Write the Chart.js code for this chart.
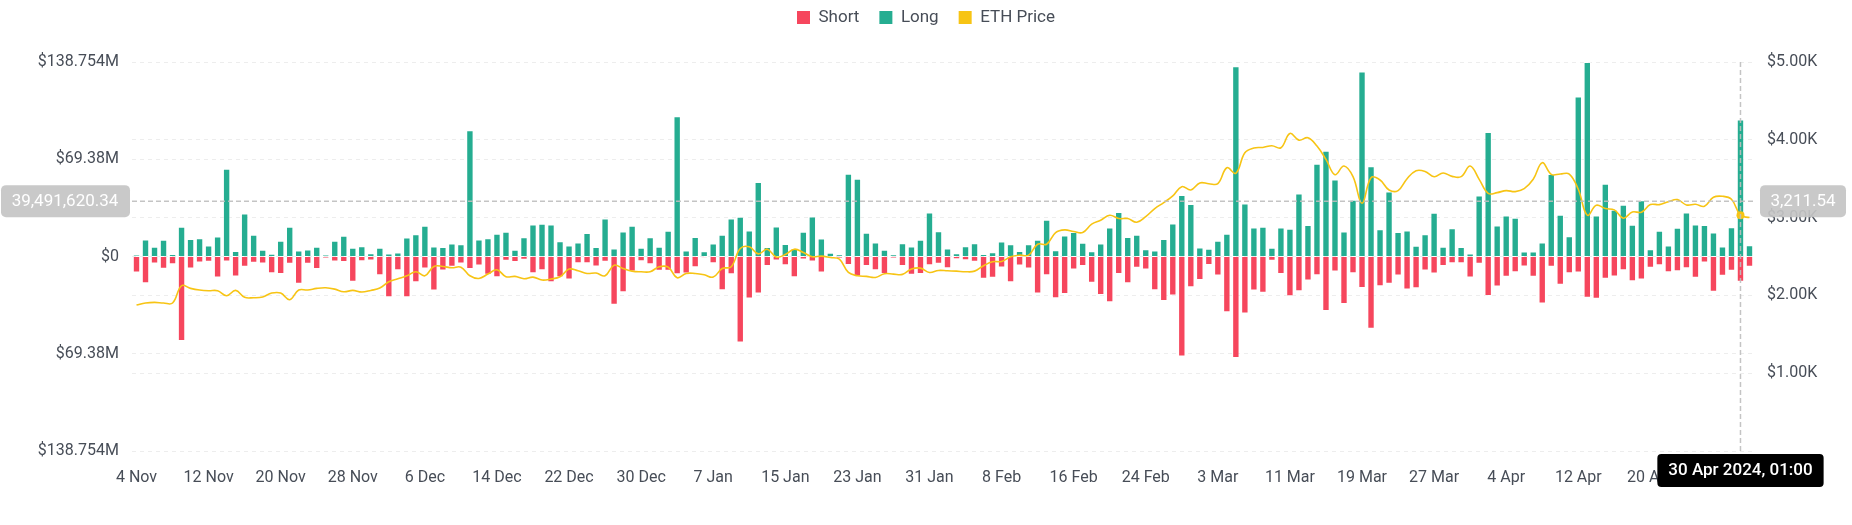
<!DOCTYPE html>
<html>
<head>
<meta charset="utf-8">
<title>ETH Liquidations</title>
<script src="https://cdn.jsdelivr.net/npm/chart.js@4.4.1/dist/chart.umd.min.js"></script>
<style>
  html, body { margin: 0; padding: 0; background: #fff; }
  #wrap { width: 1852px; height: 525px; position: relative; }
</style>
</head>
<body>
<div id="wrap"><canvas id="liqChart"></canvas></div>
<script>
// daily liquidations in $M, 4 Nov 2023 -> 1 May 2024
const longLiq = [
  1.2, 12.1, 6.9, 11.9, 1.7, 21.2, 12.4, 13.1, 7.9, 14.3,
  62.6, 4.0, 30.7, 15.5, 4.8, 1.9, 11.2, 21.2, 4.3, 5.0,
  6.9, 1.0, 11.2, 14.8, 6.2, 7.4, 2.4, 6.2, 2.1, 2.9,
  13.6, 15.9, 21.9, 7.1, 6.7, 9.3, 8.8, 90.0, 12.1, 13.1,
  16.2, 17.6, 4.8, 13.8, 22.8, 23.3, 22.8, 10.9, 7.9, 10.0,
  16.7, 6.7, 27.1, 5.7, 17.9, 21.9, 6.2, 13.8, 6.9, 18.3,
  100.0, 4.3, 14.0, 3.8, 9.3, 15.5, 27.1, 28.3, 18.6, 53.1,
  6.7, 21.4, 9.0, 5.5, 17.6, 28.6, 12.9, 2.6, 1.4, 59.0,
  55.5, 16.9, 10.0, 4.8, 1.4, 9.5, 7.1, 11.9, 31.4, 18.1,
  5.7, 2.4, 7.4, 9.5, 1.7, 3.1, 10.7, 8.8, 4.0, 8.8,
  11.9, 26.2, 4.5, 15.0, 17.4, 9.8, 3.8, 9.3, 20.7, 31.7,
  14.0, 15.5, 5.2, 4.3, 12.4, 23.6, 43.8, 37.4, 6.4, 5.5,
  11.2, 16.2, 135.7, 37.8, 20.7, 21.2, 6.2, 20.7, 19.8, 45.0,
  22.4, 66.2, 75.4, 55.0, 17.9, 40.5, 131.9, 64.3, 19.5, 46.4,
  17.4, 18.6, 7.6, 15.9, 31.2, 6.9, 20.2, 6.7, 2.1, 43.6,
  88.8, 22.1, 29.3, 27.6, 3.6, 3.6, 10.0, 58.8, 29.8, 14.5,
  114.2, 138.754, 29.3, 51.9, 33.3, 36.9, 22.6, 40.2, 5.2, 18.3,
  7.9, 20.5, 31.4, 22.8, 22.4, 17.1, 7.1, 20.9, 97.8, 8.1
];

const shortLiq = [
  11.4, 19.0, 5.0, 8.8, 5.5, 60.2, 8.6, 4.3, 3.8, 15.0,
  3.6, 14.3, 7.4, 4.5, 5.0, 11.9, 12.4, 5.2, 19.5, 5.2,
  9.0, 1.2, 3.6, 4.0, 18.1, 3.3, 2.9, 13.3, 29.0, 9.8,
  29.0, 18.3, 8.6, 24.3, 10.0, 7.4, 5.0, 9.0, 6.4, 13.1,
  14.8, 3.1, 4.0, 2.4, 11.9, 9.8, 18.3, 14.8, 16.4, 4.8,
  4.8, 7.1, 3.8, 34.5, 25.5, 10.7, 3.3, 5.5, 10.2, 10.2,
  12.6, 12.1, 7.6, 0.7, 4.8, 24.0, 12.6, 61.4, 30.0, 26.4,
  6.7, 2.9, 6.2, 14.8, 2.1, 3.6, 11.4, 0.5, 1.0, 6.0,
  14.3, 6.7, 9.8, 12.4, 1.0, 6.7, 13.1, 12.4, 6.2, 5.2,
  8.3, 1.9, 2.6, 3.8, 15.9, 15.2, 7.9, 18.3, 6.4, 8.6,
  26.4, 13.3, 29.8, 26.7, 9.3, 6.7, 18.8, 27.4, 32.6, 12.4,
  19.0, 8.1, 9.3, 24.0, 31.7, 27.8, 71.4, 21.9, 16.7, 6.0,
  13.6, 39.7, 72.4, 40.7, 24.3, 25.9, 3.1, 12.4, 28.3, 24.8,
  17.1, 13.3, 38.8, 10.7, 33.8, 11.9, 22.4, 51.6, 21.2, 19.5,
  13.6, 23.6, 22.6, 10.0, 12.1, 6.7, 4.8, 4.8, 15.0, 5.2,
  28.1, 21.4, 14.5, 11.2, 7.1, 14.5, 33.6, 7.4, 20.2, 11.9,
  11.4, 29.5, 30.2, 15.9, 14.3, 9.8, 17.6, 16.4, 8.1, 6.2,
  11.2, 10.5, 8.3, 15.2, 4.3, 25.2, 13.8, 10.2, 18.1, 7.4
];

const ethPrice = [
  1876, 1902, 1910, 1902, 1902, 2124, 2090, 2069, 2060, 2060,
  1996, 2064, 1975, 1970, 1979, 2030, 2030, 1945, 2069, 2069,
  2090, 2098, 2081, 2047, 2064, 2043, 2064, 2094, 2175, 2214,
  2252, 2304, 2252, 2372, 2372, 2355, 2363, 2252, 2218, 2274,
  2329, 2240, 2244, 2214, 2235, 2197, 2210, 2240, 2338, 2316,
  2282, 2287, 2252, 2389, 2346, 2312, 2304, 2304, 2368, 2363,
  2227, 2282, 2282, 2265, 2235, 2346, 2368, 2603, 2624, 2534,
  2594, 2492, 2526, 2594, 2552, 2496, 2505, 2487, 2466, 2295,
  2252, 2244, 2231, 2278, 2274, 2270, 2338, 2351, 2295, 2321,
  2316, 2312, 2304, 2312, 2381, 2432, 2436, 2496, 2517, 2517,
  2658, 2658, 2808, 2842, 2821, 2808, 2915, 2966, 3030, 2988,
  2988, 2941, 3013, 3116, 3193, 3278, 3398, 3355, 3445, 3436,
  3436, 3641, 3569, 3834, 3894, 3902, 3924, 3898, 4082, 3996,
  4026, 3919, 3748, 3552, 3663, 3526, 3184, 3513, 3483, 3355,
  3347, 3500, 3603, 3594, 3526, 3573, 3530, 3526, 3663, 3492,
  3312, 3321, 3347, 3334, 3372, 3492, 3706, 3556, 3560, 3560,
  3364, 3030, 3158, 3116, 3099, 2992, 3073, 3069, 3167, 3167,
  3205, 3231, 3163, 3171, 3146, 3261, 3274, 3235, 3030, 3000
];

const monthNames = ['Jan', 'Feb', 'Mar', 'Apr', 'May', 'Jun', 'Jul', 'Aug', 'Sep', 'Oct', 'Nov', 'Dec'];
const categories = [];
for (let i = 0; i < longLiq.length; i++) {
  const d = new Date(2023, 10, 4 + i);
  categories.push(d.getDate() + ' ' + monthNames[d.getMonth()]);
}

const leftTickValues = [-138.754, -69.377, 0, 69.377, 138.754];
const leftTickLabels = ['$138.754M', '$69.38M', '$0', '$69.38M', '$138.754M'];
const rightTickValues = [0, 1000, 2000, 3000, 4000, 5000];
const rightTickLabels = ['', '$1.00K', '$2.00K', '$3.00K', '$4.00K', '$5.00K'];
const tickEvery = 8;

// hover state shown in the screenshot
const hoverIndex = 178;
const hoverLiq = 39.49162034;
const hoverPrice = 3211.54;
const hoverTitle = '30 Apr 2024, 01:00';

const RED = '#F6465D';
const GREEN = '#25AD91';
const YELLOW = '#F7C414';
const TEXT = '#474D57';
const FONT = 'Roboto, "Noto Sans", sans-serif';

// push the plot area down below the legend
const legendSpacer = {
  id: 'legendSpacer',
  beforeInit(chart) {
    const fit = chart.legend.fit;
    chart.legend.fit = function () {
      fit.bind(chart.legend)();
      this.height += 26;
    };
  }
};

const crosshair = {
  id: 'crosshair',
  afterDatasetsDraw(chart) {
    const { ctx, chartArea: a, scales } = chart;
    const x = scales.x.getPixelForValue(hoverIndex);
    const y = scales.y.getPixelForValue(hoverLiq);
    ctx.save();
    ctx.strokeStyle = 'rgba(190,190,190,0.9)';
    ctx.lineWidth = 1.5;
    ctx.setLineDash([5, 3]);
    ctx.beginPath();
    ctx.moveTo(a.left, y);
    ctx.lineTo(a.right, y);
    ctx.stroke();
    ctx.beginPath();
    ctx.moveTo(x, a.top);
    ctx.lineTo(x, a.bottom);
    ctx.stroke();
    ctx.restore();
  },
  afterDraw(chart) {
    const { ctx, chartArea: a, scales } = chart;
    const x = scales.x.getPixelForValue(hoverIndex);
    const y = scales.y.getPixelForValue(hoverLiq);
    const liqText = (hoverLiq * 1e6).toLocaleString('en-US', { minimumFractionDigits: 2, maximumFractionDigits: 2 });
    const priceText = hoverPrice.toLocaleString('en-US', { minimumFractionDigits: 2, maximumFractionDigits: 2 });
    ctx.save();
    ctx.font = '17px ' + FONT;
    ctx.textAlign = 'center';
    ctx.textBaseline = 'middle';

    ctx.fillStyle = 'rgba(196,196,196,0.92)';
    ctx.beginPath();
    ctx.roundRect(1, y - 16, 129, 32, 5);
    ctx.fill();
    ctx.fillStyle = '#fff';
    ctx.fillText(liqText, 65, y + 1);

    ctx.fillStyle = 'rgba(196,196,196,0.92)';
    ctx.beginPath();
    ctx.roundRect(a.right + 6, y - 16, 86, 32, 5);
    ctx.fill();
    ctx.fillStyle = '#fff';
    ctx.fillText(priceText, a.right + 49, y + 1);

    ctx.font = '500 17px ' + FONT;
    const w = ctx.measureText(hoverTitle).width + 22;
    ctx.fillStyle = '#000';
    ctx.beginPath();
    ctx.roundRect(x - w / 2, a.bottom + 3, w, 33, 4);
    ctx.fill();
    ctx.fillStyle = '#fff';
    ctx.fillText(hoverTitle, x, a.bottom + 20);
    ctx.restore();
  }
};

const ctx = document.getElementById('liqChart').getContext('2d');
new Chart(ctx, {
  data: {
    labels: categories,
    datasets: [
      {
        type: 'bar',
        label: 'Short',
        data: shortLiq.map(v => -v),
        backgroundColor: RED,
        borderColor: 'rgba(255,255,255,0.45)',
        borderWidth: 1,
        categoryPercentage: 1,
        barPercentage: 0.82,
        yAxisID: 'y',
        order: 2
      },
      {
        type: 'bar',
        label: 'Long',
        data: longLiq,
        backgroundColor: GREEN,
        borderColor: 'rgba(255,255,255,0.45)',
        borderWidth: 1,
        categoryPercentage: 1,
        barPercentage: 0.82,
        yAxisID: 'y',
        order: 2
      },
      {
        type: 'line',
        label: 'ETH Price',
        data: ethPrice,
        borderColor: YELLOW,
        backgroundColor: YELLOW,
        borderWidth: 1.6,
        tension: 0.4,
        pointRadius: c => (c.dataIndex === hoverIndex ? 4 : 0),
        pointBackgroundColor: YELLOW,
        pointBorderWidth: 0,
        yAxisID: 'y1',
        order: 0
      }
    ]
  },
  options: {
    responsive: true,
    maintainAspectRatio: false,
    animation: false,
    layout: { padding: { top: -11 } },
    plugins: {
      tooltip: { enabled: false },
      legend: {
        position: 'top',
        labels: {
          boxWidth: 13,
          boxHeight: 13,
          padding: 20,
          color: TEXT,
          font: { family: FONT, size: 17 },
          sort: (a, b) => a.datasetIndex - b.datasetIndex,
          generateLabels(chart) {
            const items = Chart.defaults.plugins.legend.labels.generateLabels(chart);
            items.forEach(it => { it.lineWidth = 0; it.strokeStyle = it.fillStyle; });
            return items;
          }
        }
      }
    },
    scales: {
      x: {
        stacked: true,
        grid: { display: false },
        border: { display: false },
        ticks: {
          autoSkip: false,
          maxRotation: 0,
          padding: 9,
          color: TEXT,
          font: { family: FONT, size: 16 },
          callback: (value, index) => (index % tickEvery === 0 ? categories[index] : '')
        },
        afterFit: s => { s.height = 74; }
      },
      y: {
        position: 'left',
        stacked: true,
        min: -138.754,
        max: 138.754,
        afterBuildTicks: s => { s.ticks = leftTickValues.map(v => ({ value: v })); },
        grid: { color: '#EDEDED', drawTicks: false },
        border: { display: false, dash: [4, 4] },
        ticks: {
          padding: 13,
          color: TEXT,
          font: { family: FONT, size: 16 },
          callback: (value, index) => leftTickLabels[index]
        },
        afterFit: s => { s.width = 132; }
      },
      y1: {
        position: 'right',
        min: 0,
        max: 5000,
        afterBuildTicks: s => { s.ticks = rightTickValues.map(v => ({ value: v })); },
        grid: { color: '#EDEDED', drawTicks: false },
        border: { display: false, dash: [4, 4] },
        ticks: {
          padding: 13,
          color: TEXT,
          font: { family: FONT, size: 16 },
          callback: (value, index) => rightTickLabels[index]
        },
        afterFit: s => { s.width = 98; }
      }
    }
  },
  plugins: [legendSpacer, crosshair]
});
</script>
</body>
</html>
